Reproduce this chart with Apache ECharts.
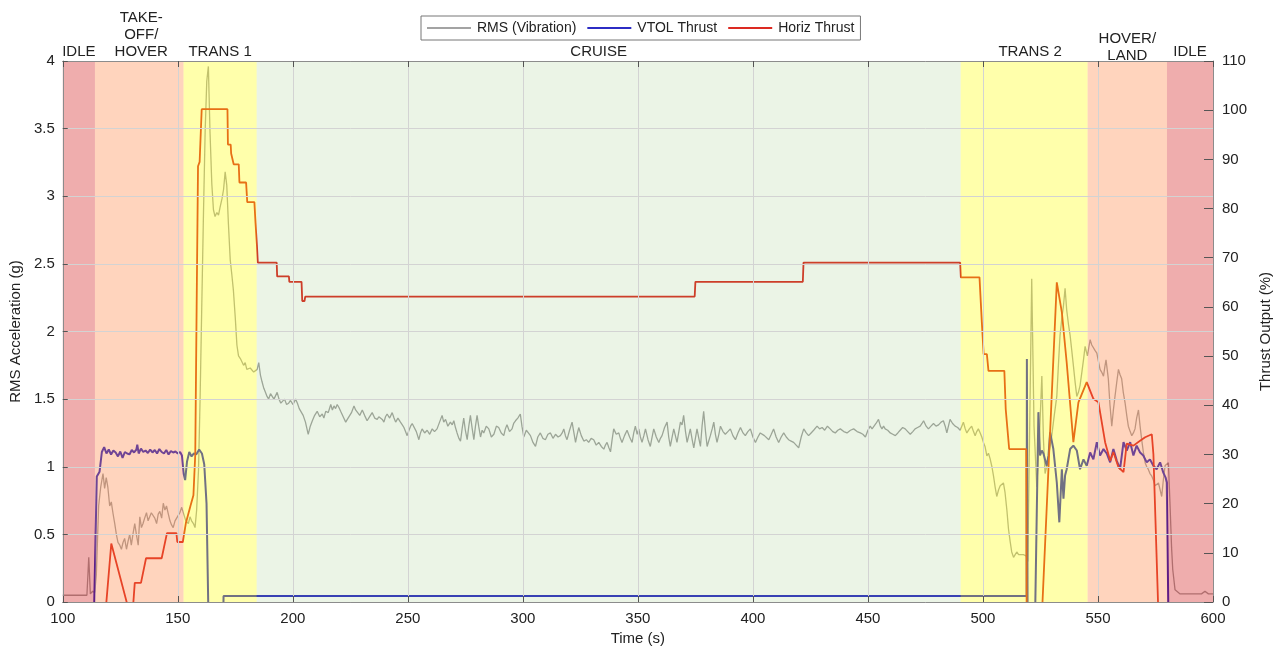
<!DOCTYPE html>
<html><head><meta charset="utf-8">
<script src="https://cdn.jsdelivr.net/npm/echarts@6/dist/echarts.min.js"></script>
<style>html,body{margin:0;padding:0;background:#fff}#chart{width:1283px;height:651px}</style>
</head><body><div id="chart"></div>
<script>
// ---- data ----
const phaseNames = ['IDLE', 'TAKE-\nOFF/\nHOVER', 'TRANS 1', 'CRUISE', 'TRANS 2', 'HOVER/\nLAND', 'IDLE'];
const phaseStart = [100, 114, 152.5, 184.3, 490.3, 545.5, 580];
const phaseEnd   = [114, 152.5, 184.3, 490.3, 545.5, 580, 600];
const seriesNames = ['RMS (Vibration)', 'VTOL Thrust', 'Horiz Thrust'];

// RMS acceleration (g) vs time (s)
const rmsData = [[100,0.05],[105,0.05],[110.5,0.05],[111.3,0.33],[112,0.06],[113,0.08],[113.9,0.07],[114.6,0.2],[115.6,0.71],[116.5,0.85],[117.5,0.95],[118.2,0.84],[118.9,0.92],[119.6,0.85],[120.4,0.71],[121.1,0.74],[121.8,0.66],[122.6,0.58],[123.3,0.5],[124,0.44],[124.8,0.42],[125.5,0.39],[126.2,0.44],[126.9,0.47],[127.7,0.39],[128.4,0.45],[129.1,0.5],[129.8,0.42],[130.5,0.5],[131.3,0.58],[132,0.5],[132.8,0.42],[133.5,0.63],[134.2,0.55],[134.9,0.58],[135.6,0.62],[136.4,0.66],[137.1,0.6],[137.8,0.6],[138.5,0.66],[139.3,0.66],[140,0.62],[140.8,0.58],[141.5,0.65],[142.2,0.67],[143,0.62],[143.7,0.73],[144.4,0.68],[145.1,0.71],[145.9,0.65],[146.6,0.6],[147.3,0.57],[148,0.55],[148.8,0.6],[149.5,0.6],[150.2,0.64],[150.9,0.66],[151.7,0.7],[152.4,0.71],[153.5,0.6],[154.6,0.58],[155.3,0.63],[156,0.6],[156.8,0.58],[157.5,0.55],[158.2,0.68],[159,0.97],[159.7,1.5],[160.4,2.16],[161.2,2.9],[161.9,3.48],[162.6,3.85],[163.3,3.96],[164,3.48],[164.8,3.09],[165.5,2.9],[166.2,2.85],[167,2.88],[167.7,2.86],[168.4,2.92],[169.2,2.98],[169.9,3.05],[170.6,3.18],[171.3,3.08],[172,2.8],[172.8,2.53],[173.5,2.42],[174.2,2.3],[175,2.1],[175.7,1.9],[176.4,1.82],[177.2,1.8],[177.9,1.79],[178.6,1.75],[179.3,1.77],[180,1.72],[180.8,1.71],[181.5,1.73],[182.2,1.74],[183,1.7],[183.7,1.69],[184.5,1.72],[185.2,1.77],[185.9,1.68],[186.6,1.63],[187.4,1.58],[188.1,1.55],[188.8,1.52],[189.5,1.5],[190.3,1.54],[191,1.53],[191.8,1.5],[192.4,1.5],[193.2,1.55],[194,1.5],[194.8,1.47],[195.5,1.48],[196.4,1.5],[197.3,1.46],[198.2,1.47],[199,1.49],[200.1,1.46],[201.2,1.5],[202,1.47],[202.8,1.43],[203.6,1.42],[204.5,1.38],[205.5,1.33],[206.7,1.24],[207.6,1.3],[208.5,1.34],[209.5,1.38],[210.6,1.41],[211.7,1.37],[212.8,1.39],[213.5,1.36],[214.3,1.41],[215.4,1.4],[216.5,1.46],[217.2,1.42],[217.9,1.45],[218.6,1.43],[219.3,1.46],[220,1.44],[220.8,1.41],[221.9,1.37],[223,1.33],[223.7,1.35],[224.4,1.36],[225.5,1.4],[226.6,1.45],[227.3,1.42],[228,1.41],[229.1,1.38],[230.2,1.42],[231.2,1.38],[232.3,1.34],[233.4,1.37],[234.5,1.4],[235.6,1.36],[236.7,1.35],[237.4,1.37],[238.1,1.38],[238.9,1.35],[239.6,1.33],[240.3,1.37],[241,1.39],[242.1,1.36],[243.2,1.4],[244,1.36],[244.7,1.33],[245.7,1.36],[246.8,1.33],[247.6,1.31],[248.3,1.29],[249,1.26],[249.7,1.23],[250.5,1.27],[251.2,1.3],[251.9,1.32],[252.6,1.33],[253.7,1.26],[254.8,1.2],[255.5,1.25],[256.2,1.28],[257.3,1.25],[258.4,1.27],[259.5,1.24],[260.6,1.28],[261.6,1.26],[262.7,1.28],[263.8,1.33],[264.9,1.38],[265.6,1.33],[266.4,1.35],[267.4,1.3],[268.5,1.33],[269.3,1.31],[270,1.34],[270.7,1.29],[271.4,1.25],[272.2,1.21],[272.9,1.19],[273.6,1.28],[274.3,1.36],[275,1.27],[275.8,1.2],[276.5,1.3],[277.2,1.38],[278,1.28],[278.7,1.2],[279.4,1.3],[280.1,1.38],[280.8,1.3],[281.6,1.22],[282.3,1.27],[283,1.25],[284.1,1.3],[285.2,1.28],[286.3,1.22],[287.4,1.24],[288.5,1.3],[289.5,1.29],[290.6,1.25],[291.7,1.23],[292.4,1.28],[293.1,1.31],[294.2,1.26],[295.3,1.28],[296,1.32],[296.8,1.34],[297.8,1.36],[298.9,1.39],[299.6,1.3],[300.4,1.22],[301.5,1.27],[302.4,1.25],[303.3,1.23],[304.4,1.18],[305.5,1.15],[306.5,1.22],[307.6,1.25],[308.7,1.21],[309.8,1.2],[310.9,1.24],[312,1.25],[313.1,1.21],[314.2,1.24],[315.3,1.22],[316.3,1.23],[317.1,1.25],[317.8,1.28],[318.5,1.23],[319.2,1.2],[320.3,1.27],[321.4,1.33],[322.2,1.25],[322.9,1.18],[323.6,1.24],[324.3,1.29],[325.4,1.23],[326.5,1.19],[327.6,1.2],[328.6,1.18],[329.7,1.21],[330.8,1.2],[331.9,1.16],[333,1.18],[334.1,1.15],[335.2,1.13],[335.9,1.16],[336.6,1.18],[337.4,1.14],[338.1,1.11],[338.8,1.2],[339.5,1.28],[340.6,1.24],[341.7,1.25],[342.4,1.21],[343.1,1.18],[344.2,1.23],[345.3,1.27],[346.4,1.22],[347.5,1.18],[348.2,1.25],[348.9,1.3],[349.7,1.24],[350.4,1.28],[351.1,1.22],[351.8,1.18],[352.6,1.23],[353.3,1.28],[354.4,1.2],[355.4,1.15],[356.2,1.22],[356.9,1.28],[358,1.22],[359.1,1.18],[359.8,1.21],[360.5,1.23],[361.6,1.29],[362.7,1.33],[363.4,1.22],[364.1,1.15],[364.9,1.22],[365.6,1.28],[366.3,1.23],[367,1.18],[367.8,1.26],[368.5,1.33],[369.2,1.31],[369.9,1.38],[370.7,1.26],[371.4,1.18],[372.1,1.23],[372.8,1.28],[373.6,1.2],[374.3,1.14],[375,1.21],[375.7,1.28],[376.5,1.21],[377.2,1.15],[377.9,1.3],[378.6,1.41],[379.4,1.26],[380.1,1.15],[380.8,1.19],[381.5,1.23],[382.3,1.28],[383,1.33],[383.7,1.24],[384.4,1.18],[385.2,1.24],[385.9,1.3],[387,1.26],[388,1.24],[389.1,1.26],[390.2,1.28],[391.3,1.23],[392.4,1.2],[393.5,1.25],[394.6,1.29],[395.7,1.25],[396.7,1.23],[397.8,1.26],[398.9,1.28],[400,1.22],[401.1,1.18],[402.2,1.22],[403.2,1.25],[405,1.23],[406.9,1.2],[408,1.24],[409,1.28],[410.1,1.22],[411.2,1.18],[412.3,1.22],[413.4,1.25],[414.5,1.22],[415.5,1.2],[416.6,1.19],[417.7,1.18],[418.8,1.16],[419.9,1.14],[421,1.22],[422.1,1.28],[423.2,1.25],[424.2,1.23],[425.3,1.25],[426.4,1.27],[427.2,1.28],[427.9,1.3],[429,1.28],[430.1,1.29],[431.2,1.27],[432.4,1.3],[433.6,1.28],[434.7,1.26],[435.8,1.25],[436.9,1.27],[438,1.28],[439.5,1.26],[440.9,1.25],[442.4,1.27],[443.8,1.28],[445.3,1.26],[446.7,1.25],[447.8,1.24],[448.9,1.22],[450,1.27],[451,1.3],[451.8,1.28],[452.5,1.28],[453.5,1.32],[454.6,1.35],[455.4,1.3],[456.1,1.28],[456.8,1.3],[457.5,1.28],[458.6,1.27],[459.7,1.25],[460.8,1.24],[461.9,1.23],[463,1.25],[464,1.27],[465.1,1.29],[466.2,1.28],[467.3,1.26],[468.4,1.24],[469.5,1.26],[470.5,1.28],[471.6,1.29],[472.7,1.3],[473.5,1.32],[474.2,1.34],[475.3,1.3],[476.3,1.28],[477.4,1.3],[478.5,1.32],[479.6,1.3],[480.7,1.31],[481.8,1.33],[482.8,1.34],[483.6,1.3],[484.3,1.25],[485,1.3],[485.7,1.35],[486.8,1.32],[487.9,1.3],[489,1.29],[490.1,1.27],[490.8,1.3],[491.5,1.33],[492.3,1.28],[493,1.25],[494.1,1.28],[495.1,1.3],[495.9,1.26],[496.6,1.23],[497.3,1.26],[498,1.28],[498.8,1.25],[499.5,1.22],[500.2,1.18],[500.9,1.15],[501.7,1.08],[502.4,1.1],[503.1,1.06],[503.9,1.0],[504.6,0.93],[505.3,0.85],[506,0.78],[506.8,0.83],[507.5,0.86],[508.2,0.85],[508.9,0.88],[509.6,0.81],[510.4,0.68],[511.1,0.54],[511.8,0.45],[512.5,0.37],[513.3,0.33],[514,0.35],[514.7,0.37],[515.5,0.35],[516.2,0.36],[517.6,0.35],[518.8,0.34],[519.5,0.3],[520.4,1.4],[521.2,2.39],[522.2,1.3],[523.4,0.85],[524.5,1.2],[525.6,1.67],[526.3,1.2],[527,0.95],[527.7,1.0],[528.5,1.08],[529.2,1.15],[529.9,1.23],[531,1.38],[532.1,1.52],[532.8,1.75],[533.5,1.97],[534.3,2.1],[535,2.19],[535.7,2.32],[536.4,2.16],[537.2,2.05],[537.9,1.97],[538.6,1.86],[539.3,1.75],[540.1,1.62],[540.8,1.52],[541.5,1.55],[542.2,1.6],[543,1.7],[543.7,1.79],[544.4,1.89],[545.4,1.82],[546,1.88],[546.6,1.94],[547.3,1.9],[548,1.89],[548.7,1.86],[549.5,1.84],[550.2,1.78],[550.9,1.72],[551.6,1.7],[552.4,1.67],[553,1.74],[553.5,1.79],[554.5,1.65],[555.2,1.46],[556,1.3],[556.7,1.42],[557.4,1.52],[558.2,1.63],[558.9,1.72],[559.6,1.68],[560.3,1.65],[561,1.55],[561.8,1.47],[562.5,1.38],[563.2,1.3],[564,1.26],[564.7,1.23],[565.4,1.25],[566.1,1.28],[566.8,1.36],[567.6,1.42],[568.3,1.3],[569,1.2],[569.8,1.1],[570.5,1.03],[571.2,1.0],[571.9,0.98],[572.6,0.95],[573.4,0.93],[574.1,0.9],[574.8,0.86],[575.5,0.87],[576.3,0.88],[577,0.83],[577.7,0.78],[578.4,0.9],[579.2,1.01],[579.9,1.02],[580.6,1.03],[581.3,0.73],[582,0.4],[582.5,0.24],[583.5,0.09],[585.7,0.06],[595,0.06],[596.5,0.08],[598,0.06],[600,0.06]];

// VTOL thrust (%) vs time (s)
const vtolData = [[113.6,-2],[114.8,25.5],[116,26.5],[117,30.5],[118,31.5],[119,30.2],[120,31.0],[121,30.0],[122,30.8],[123,30.4],[124,29.6],[125,30.6],[126,29.3],[127,30.5],[128,30.2],[129,30.0],[130,30.9],[131,30.4],[132,31.0],[132.4,32.0],[133,30.2],[134,31.2],[135,30.5],[136,30.8],[137,30.3],[138,31.0],[139,30.4],[140,30.9],[141,30.2],[142,31.1],[143,30.5],[144,30.2],[145,30.9],[146,30.0],[147,30.7],[148,30.4],[149,30.6],[150,30.2],[151,30.5],[151.8,29.8],[152.6,26.0],[153.2,24.8],[154,28.5],[155,30.5],[156,29.6],[157,30.2],[158,30.0],[159.3,31.0],[160.5,30.2],[161.5,28.0],[162.5,20.0],[163.3,-2],[169.8,-2],[169.9,1.2],[519.0,1.2],[519.1,49.4],[519.4,-2],[522.7,-2],[524.1,38.6],[524.8,29.8],[525.6,30.8],[526.3,30.2],[527,30.4],[527.7,27.7],[528.5,29.8],[529.2,34.5],[530.6,31.1],[532.1,24.3],[533.2,16.2],[534.3,27.0],[535,21.0],[535.7,25.7],[536.4,27.0],[537.9,31.1],[539.3,31.8],[540.8,30.8],[542.2,27.0],[543.7,29.0],[545.1,27.7],[546.6,30.4],[548,29.0],[549.5,32.5],[550.9,29.8],[552.4,31.1],[553.8,30.2],[555.3,28.4],[556.7,31.1],[558.2,28.7],[559.6,27.0],[561.1,32.5],[562.5,30.8],[564,32.5],[565.4,29.8],[566.8,31.8],[568.3,30.4],[569.7,29.8],[571.2,28.4],[572.6,29.0],[574.1,27.7],[575.5,27.0],[577,28.4],[578.4,26.3],[579.4,25.3],[579.9,24.3],[580.6,-2]];

// Horizontal thrust (%) vs time (s)
const horizData = [[118.6,-2],[121.1,11.9],[121.9,11.7],[128.9,-2],[130.4,-2],[131.3,3.9],[134,3.9],[136.2,8.9],[143,8.9],[145.3,14.0],[149.4,14.0],[149.8,12.2],[152.2,12.2],[153.5,16.0],[155.5,19.5],[156.8,21.7],[157.6,30.0],[158.2,60.0],[158.8,88.6],[159.5,89.5],[160.4,100.2],[171.6,100.2],[171.8,93.0],[173,93.0],[173.2,91.2],[174,91.2],[174.3,89.0],[176.5,89.0],[176.8,85.3],[179.7,85.3],[180.2,81.3],[183.3,81.3],[183.8,77.0],[184.4,72.6],[184.8,69.0],[193,69.0],[193.2,66.2],[198.3,66.2],[198.5,65.1],[203.8,65.1],[204.1,61.2],[205.1,61.2],[205.4,62.1],[374.7,62.1],[375,65.1],[421.7,65.1],[422,69.0],[490.1,69.0],[490.4,66.0],[498.5,66.0],[499.5,57.0],[500.3,50.4],[501.7,50.4],[502.4,47.0],[509.3,47.0],[509.9,39.2],[511.4,31.1],[518.8,31.1],[519,-3],[525.6,-3],[532.1,65.0],[534.3,58.9],[536.4,48.7],[539.3,32.5],[541.5,40.6],[545.1,44.7],[548,41.3],[550.2,40.6],[553.1,32.5],[555.3,28.7],[556.7,30.5],[558.9,27.4],[561.1,26.4],[562.5,32.2],[565.4,31.8],[568.3,32.8],[570.5,33.5],[573.4,34.1],[574.1,30.0],[576.3,-3]];

// ---- styles (kept separate from data) ----
const phaseColors = ['rgba(204,0,0,0.32)', 'rgba(255,120,50,0.32)', 'rgba(255,255,0,0.33)', 'rgba(120,180,90,0.15)', 'rgba(255,255,0,0.33)', 'rgba(255,120,50,0.32)', 'rgba(204,0,0,0.32)'];
const phaseLabelOffsets = [[0,0],[2,0],[0,0],[-10,0],[6,0],[0,4],[0,0]];
const lineColors = ['#a3a3a3', '#2c2cc4', '#dc2a22'];
const FONT = 'Liberation Sans, Arial, sans-serif';

const bandData = phaseNames.map((n, i) => [
  { name: n, xAxis: phaseStart[i], itemStyle: { color: phaseColors[i] },
    label: { offset: phaseLabelOffsets[i] } },
  { xAxis: phaseEnd[i] }
]);

const axisLineStyle = { color: '#8c8c8c', width: 1 };
const chart = echarts.init(document.getElementById('chart'), null, { renderer: 'canvas' });
chart.setOption({
  animation: false,
  textStyle: { fontFamily: FONT },
  grid: { left: 62, right: 70, top: 61, bottom: 48, containLabel: false },
  legend: {
    data: seriesNames.map(n => ({ name: n, icon: 'rect' })),
    left: 421, top: 16, selectedMode: false,
    padding: [5, 6], itemGap: 11, itemWidth: 44, itemHeight: 2,
    borderColor: '#777', borderWidth: 1, backgroundColor: '#fff',
    textStyle: { fontSize: 14, color: '#222', fontFamily: FONT, padding: [0, 0, 0, 1] }
  },
  xAxis: [{
    type: 'value', min: 100, max: 600, interval: 50, position: 'bottom', z: 6,
    name: 'Time (s)', nameLocation: 'middle', nameGap: 29,
    nameTextStyle: { fontSize: 15, color: '#222' },
    axisLine: { show: true, onZero: false, lineStyle: axisLineStyle },
    axisTick: { show: true, inside: true, length: 6, lineStyle: { color: '#555' } },
    axisLabel: { fontSize: 15, color: '#222', margin: 9 },
    splitLine: { show: true, lineStyle: { color: '#d3d3d3', width: 1 } }
  }, {
    type: 'value', min: 100, max: 600, interval: 50, position: 'top', z: 6,
    axisLine: { show: true, onZero: false, lineStyle: axisLineStyle },
    axisTick: { show: true, inside: true, length: 6, lineStyle: { color: '#555' } },
    axisLabel: { show: false }, splitLine: { show: false }
  }],
  yAxis: [{
    type: 'value', min: 0, max: 4, interval: 0.5, position: 'left', z: 6,
    name: 'RMS Acceleration (g)', nameLocation: 'middle', nameRotate: 90, nameGap: 35,
    nameTextStyle: { fontSize: 15, color: '#222' },
    axisLine: { show: true, onZero: false, lineStyle: axisLineStyle },
    axisTick: { show: true, inside: true, length: 5, lineStyle: { color: '#555' } },
    axisLabel: { fontSize: 15, color: '#222', margin: 8 },
    splitLine: { show: true, lineStyle: { color: '#d3d3d3', width: 1 } }
  }, {
    type: 'value', min: 0, max: 110, interval: 10, position: 'right', z: 6,
    name: 'Thrust Output (%)', nameLocation: 'middle', nameRotate: 90, nameGap: 45,
    nameTextStyle: { fontSize: 15, color: '#222' },
    axisLine: { show: true, onZero: false, lineStyle: axisLineStyle },
    axisTick: { show: true, inside: true, length: 9, lineStyle: { color: '#555' } },
    axisLabel: { fontSize: 15, color: '#222', margin: 9 },
    splitLine: { show: false }
  }],
  series: [{
    name: seriesNames[0], type: 'line', xAxisIndex: 0, yAxisIndex: 0, data: rmsData,
    symbol: 'none', clip: true, z: 2, itemStyle: { color: lineColors[0] },
    lineStyle: { color: lineColors[0], width: 1.3 }
  }, {
    name: seriesNames[1], type: 'line', xAxisIndex: 0, yAxisIndex: 1, data: vtolData,
    symbol: 'none', clip: true, z: 2, itemStyle: { color: lineColors[1] },
    lineStyle: { color: lineColors[1], width: 2 }
  }, {
    name: seriesNames[2], type: 'line', xAxisIndex: 0, yAxisIndex: 1, data: horizData,
    symbol: 'none', clip: true, z: 2, itemStyle: { color: lineColors[2] },
    lineStyle: { color: lineColors[2], width: 1.8 }
  }, {
    name: 'phases', type: 'line', xAxisIndex: 0, yAxisIndex: 0, data: [], z: 4,
    markArea: {
      silent: true, z: 4,
      label: { show: true, position: 'top', distance: 1, color: '#222', fontSize: 15,
               lineHeight: 17, fontFamily: FONT, verticalAlign: 'bottom' },
      data: bandData
    }
  }]
});
</script>
</body></html>
